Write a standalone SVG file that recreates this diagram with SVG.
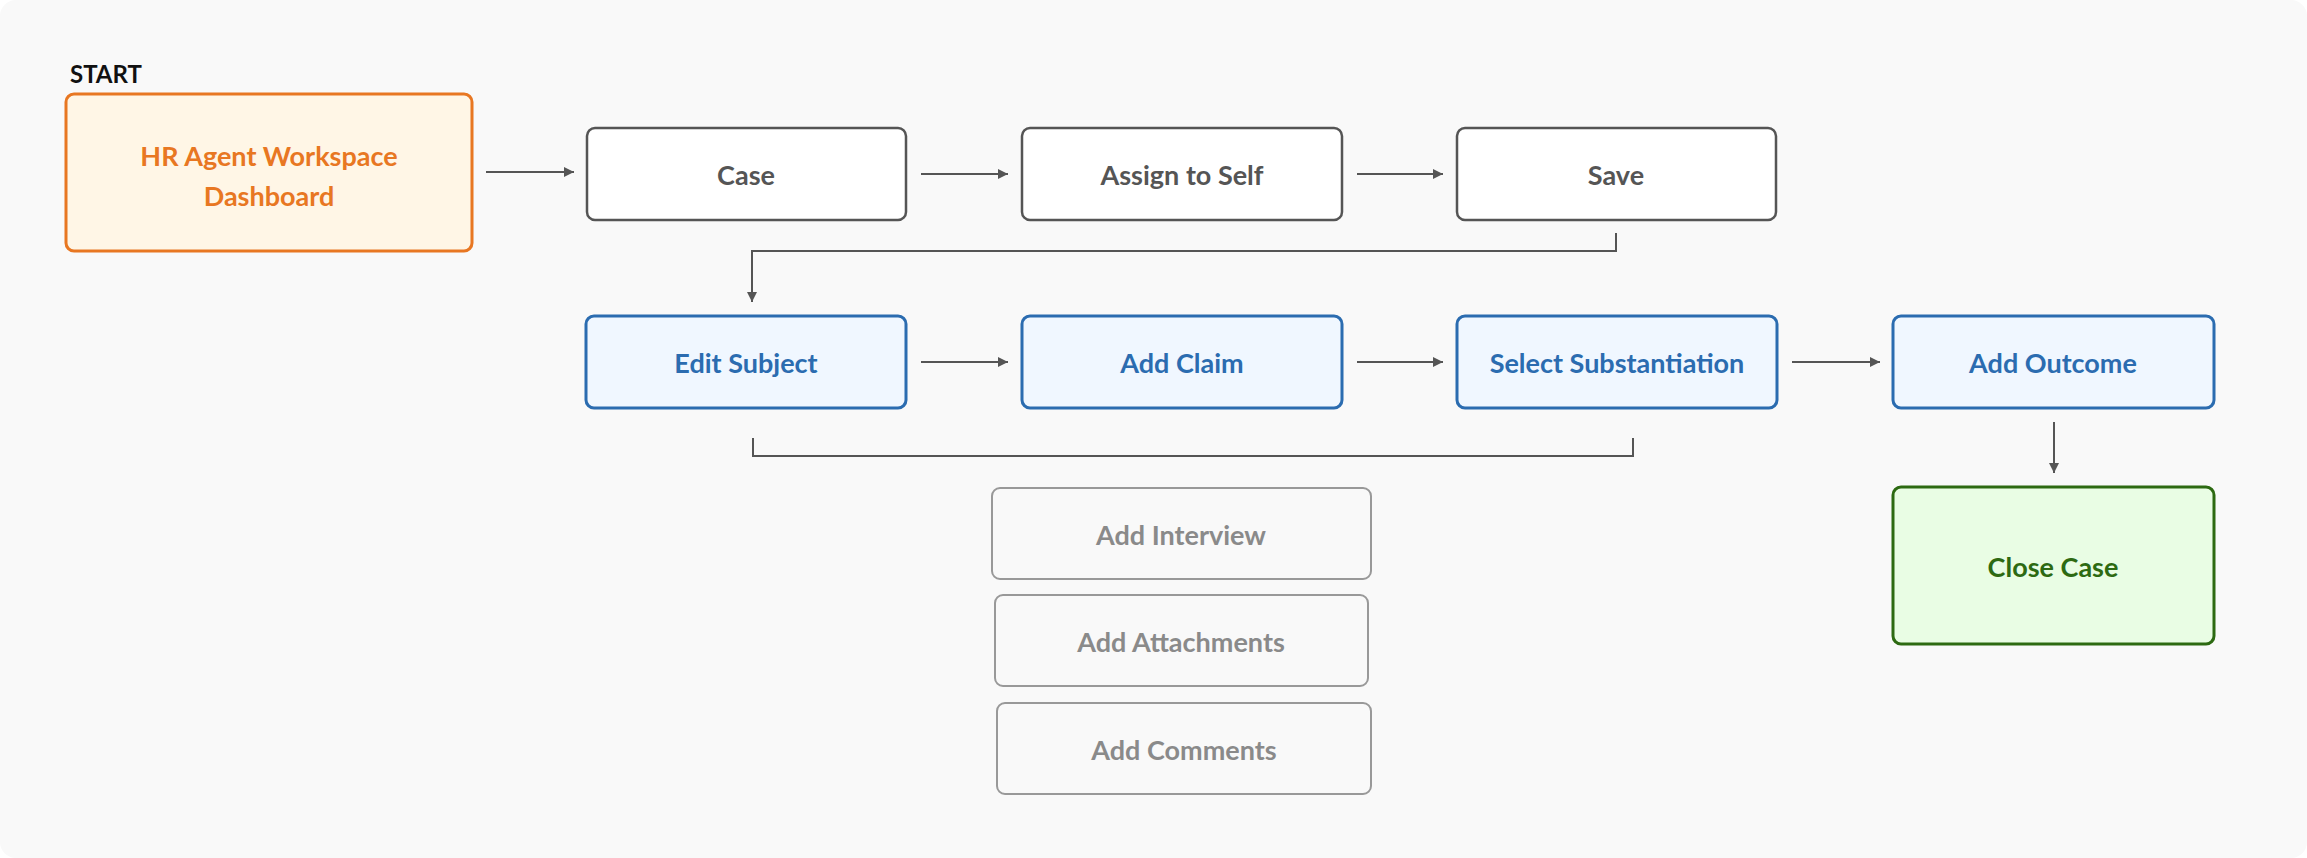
<svg xmlns="http://www.w3.org/2000/svg" width="2307" height="858" viewBox="0 0 2307 858">
<style>
.t{font-family:Lato,"Open Sans","Liberation Sans",sans-serif;font-weight:700;font-size:27px;text-anchor:middle;dominant-baseline:central}
.plain rect{fill:#fff;stroke:#555;stroke-width:2.5}
.plain text{fill:#555}
.blue rect{fill:#f0f7ff;stroke:#2b6cb0;stroke-width:3}
.blue text{fill:#2b6cb0}
.gray rect{fill:none;stroke:#999;stroke-width:2}
.gray text{fill:#8a8a8a}
.conn{fill:none;stroke:#555;stroke-width:2}
</style>
<defs>
<marker id="ah" viewBox="0 0 10 10" refX="10" refY="5" markerWidth="10" markerHeight="10" markerUnits="userSpaceOnUse" orient="auto">
<path d="M0,0 L10,5 L0,10 Z" fill="#555"/>
</marker>
</defs>
<rect x="0" y="0" width="2307" height="858" fill="#ffffff"/>
<rect x="0" y="0" width="2307" height="858" rx="16" fill="#f9f9f9"/>

<g id="connectors">
<line class="conn" x1="486" y1="172" x2="574" y2="172" marker-end="url(#ah)"/>
<line class="conn" x1="921" y1="174" x2="1008" y2="174" marker-end="url(#ah)"/>
<line class="conn" x1="1357" y1="174" x2="1443" y2="174" marker-end="url(#ah)"/>
<path class="conn" d="M1616,233 V251 H752 V302" marker-end="url(#ah)"/>
<line class="conn" x1="921" y1="362" x2="1008" y2="362" marker-end="url(#ah)"/>
<line class="conn" x1="1357" y1="362" x2="1443" y2="362" marker-end="url(#ah)"/>
<line class="conn" x1="1792" y1="362" x2="1880" y2="362" marker-end="url(#ah)"/>
<line class="conn" x1="2054" y1="422" x2="2054" y2="473" marker-end="url(#ah)"/>
<path class="conn" d="M753,438 V456 H1633 V438"/>
</g>

<g id="start-label">
<text x="70" y="83" font-family="Lato,'Liberation Sans',sans-serif" font-weight="700" font-size="24" fill="#111">START</text>
</g>

<g id="dashboard">
<rect x="66" y="94" width="406" height="157" rx="8" fill="#fff6e6" stroke="#e87722" stroke-width="3"/>
<text class="t" x="269" y="155" fill="#e87722">HR Agent Workspace</text>
<text class="t" x="269" y="195" fill="#e87722">Dashboard</text>
</g>

<g id="case" class="plain">
<rect x="587" y="128" width="319" height="92" rx="8"/>
<text class="t" x="746" y="174">Case</text>
</g>
<g id="assign" class="plain">
<rect x="1022" y="128" width="320" height="92" rx="8"/>
<text class="t" x="1182" y="174">Assign to Self</text>
</g>
<g id="save" class="plain">
<rect x="1457" y="128" width="319" height="92" rx="8"/>
<text class="t" x="1616" y="174">Save</text>
</g>

<g id="edit-subject" class="blue">
<rect x="586" y="316" width="320" height="92" rx="8"/>
<text class="t" x="746" y="362">Edit Subject</text>
</g>
<g id="add-claim" class="blue">
<rect x="1022" y="316" width="320" height="92" rx="8"/>
<text class="t" x="1182" y="362">Add Claim</text>
</g>
<g id="select-substantiation" class="blue">
<rect x="1457" y="316" width="320" height="92" rx="8"/>
<text class="t" x="1617" y="362">Select Substantiation</text>
</g>
<g id="add-outcome" class="blue">
<rect x="1893" y="316" width="321" height="92" rx="8"/>
<text class="t" x="2053" y="362">Add Outcome</text>
</g>

<g id="close-case">
<rect x="1893" y="487" width="321" height="157" rx="8" fill="#e9fde4" stroke="#2d6a12" stroke-width="3"/>
<text class="t" x="2053" y="566" fill="#2d6a12">Close Case</text>
</g>

<g id="add-interview" class="gray">
<rect x="992" y="488" width="379" height="91" rx="8"/>
<text class="t" x="1181" y="534">Add Interview</text>
</g>
<g id="add-attachments" class="gray">
<rect x="995" y="595" width="373" height="91" rx="8"/>
<text class="t" x="1181" y="641">Add Attachments</text>
</g>
<g id="add-comments" class="gray">
<rect x="997" y="703" width="374" height="91" rx="8"/>
<text class="t" x="1184" y="749">Add Comments</text>
</g>
</svg>
